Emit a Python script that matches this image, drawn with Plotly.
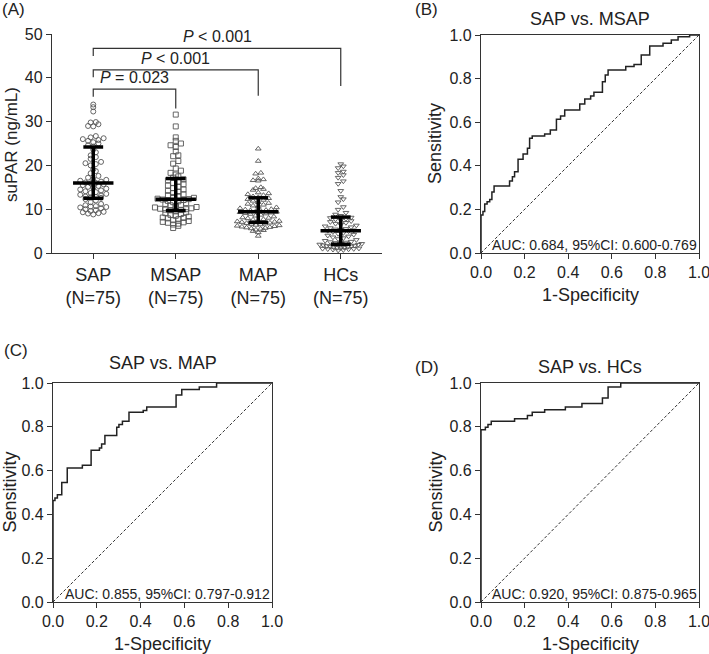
import numpy as np
import plotly.graph_objects as go

W, H = 709, 654
FONT = "Liberation Sans, Arial, sans-serif"
TXT = "#222222"
LN = "#333333"

# ---------------- Panel A data ----------------
groups = ["SAP", "MSAP", "MAP", "HCs"]
group_labels = ["SAP<br>(N=75)", "MSAP<br>(N=75)", "MAP<br>(N=75)", "HCs<br>(N=75)"]
symbols = ["circle-open", "square-open", "triangle-up-open", "triangle-down-open"]

sap = [33.9, 33.3, 32.3, 29.9, 29.8, 29.4, 29.0, 28.9, 26.7, 26.4, 26.2, 26.0, 25.8, 25.6, 25.3,
       25.0, 24.6, 24.3, 23.6, 23.0, 22.3, 21.9, 21.5, 20.8, 20.5, 20.3, 20.0, 19.1, 18.7, 18.2,
       17.6, 17.2, 16.9, 16.7, 16.5, 16.3, 16.1, 16.0, 15.9, 15.7, 15.5, 15.3, 15.1, 14.9, 14.7,
       14.5, 14.3, 14.1, 13.9, 13.7, 13.5, 13.3, 13.1, 12.9, 12.8, 12.7, 12.6, 12.3, 12.0, 11.6,
       11.2, 10.9, 10.7, 10.6, 10.5, 10.4, 10.2, 10.0, 9.8, 9.6, 9.4, 9.3, 9.1, 9.0, 8.8]
msap = [31.6, 28.9, 26.4, 25.6, 25.0, 24.6, 24.2, 23.2, 22.3, 22.1, 21.0, 20.4, 19.3, 18.8, 18.3,
        17.9, 17.5, 17.2, 16.8, 16.6, 16.3, 16.0, 15.7, 15.4, 15.1, 14.8, 14.5, 14.2, 14.0, 13.7,
        13.4, 13.2, 13.0, 12.8, 12.6, 12.4, 12.3, 12.2, 12.1, 11.9, 11.8, 11.6, 11.4, 11.2, 11.0,
        10.9, 10.7, 10.5, 10.4, 10.2, 10.1, 10.0, 9.9, 9.8, 9.75, 9.5, 9.3, 9.1, 8.9, 8.7,
        8.5, 8.3, 8.1, 8.0, 7.9, 7.7, 7.5, 7.3, 7.1, 7.0, 6.9, 6.7, 6.5, 6.2, 5.7]
map_ = [23.8, 21.0, 18.3, 18.1, 17.0, 16.8, 16.6, 16.5, 15.0, 14.8, 14.6, 14.4, 13.8, 13.6, 13.4,
        13.2, 12.9, 12.7, 12.5, 12.3, 12.1, 11.9, 11.6, 11.4, 11.2, 11.0, 10.8, 10.6, 10.4, 10.2,
        10.0, 9.9, 9.8, 9.7, 9.6, 9.5, 9.4, 9.3, 9.2, 9.1, 9.0, 8.9, 8.7, 8.5, 8.3,
        8.1, 8.0, 7.9, 7.7, 7.6, 7.4, 7.3, 7.2, 7.1, 7.05, 6.9, 6.8, 6.7, 6.6, 6.5,
        6.4, 6.3, 6.2, 6.1, 6.0, 5.9, 5.8, 5.7, 5.6, 5.5, 5.3, 5.2, 5.0, 4.7, 3.9]
hcs = [20.3, 19.8, 19.4, 18.6, 18.3, 17.8, 17.2, 16.4, 15.8, 14.2, 12.8, 12.3, 11.6, 10.5, 9.9,
       9.2, 8.8, 8.5, 8.1, 8.0, 7.8, 7.7, 7.5, 7.3, 7.1, 6.9, 6.7, 6.5, 6.3, 6.1,
       5.9, 5.7, 5.5, 5.4, 5.3, 5.2, 5.1, 5.0, 4.8, 4.6, 4.4, 4.2, 4.0, 3.8, 3.6,
       3.4, 3.2, 3.0, 2.8, 2.6, 2.5, 2.4, 2.3, 2.2, 2.1, 1.95, 1.9, 1.8, 1.7, 1.6,
       1.55, 1.5, 1.4, 1.3, 1.25, 1.2, 1.1, 1.05, 1.0, 0.95, 0.9, 0.85, 0.8, 0.7, 0.6]
group_values = [sap, msap, map_, hcs]

medians = [16.0, 12.3, 9.4, 5.1]
q1 = [12.5, 9.7, 7.0, 2.0]
q3 = [24.2, 17.0, 12.6, 8.2]

# comparisons: (target group index, p label)
comparisons = [(1, "<i>P</i> = 0.023"), (2, "<i>P</i> &lt; 0.001"), (3, "<i>P</i> &lt; 0.001")]

# ---------------- ROC data ----------------
rocB_fpr = [0, 0, 0.009, 0.017, 0.028, 0.04, 0.05, 0.06, 0.131, 0.144, 0.154, 0.17, 0.193, 0.213,
            0.223, 0.235, 0.292, 0.318, 0.346, 0.365, 0.384, 0.453, 0.476, 0.503, 0.518, 0.557,
            0.570, 0.583, 0.664, 0.702, 0.735, 0.774, 0.835, 0.873, 0.904, 0.957, 1.0]
rocB_tpr = [0, 0.174, 0.19, 0.225, 0.235, 0.245, 0.28, 0.307, 0.33, 0.35, 0.373, 0.43, 0.454, 0.48,
            0.526, 0.537, 0.546, 0.564, 0.613, 0.628, 0.656, 0.683, 0.706, 0.72, 0.737, 0.786,
            0.816, 0.839, 0.855, 0.865, 0.908, 0.95, 0.962, 0.977, 0.992, 1.0, 1.0]
rocC_fpr = [0, 0, 0.009, 0.02, 0.04, 0.065, 0.134, 0.174, 0.212, 0.222, 0.237, 0.291, 0.301, 0.317,
            0.347, 0.412, 0.428, 0.562, 0.588, 0.668, 0.747, 1.0]
rocC_tpr = [0, 0.463, 0.475, 0.49, 0.546, 0.612, 0.624, 0.693, 0.703, 0.721, 0.76, 0.798, 0.81, 0.825,
            0.866, 0.875, 0.89, 0.945, 0.97, 0.982, 1.0, 1.0]
rocD_fpr = [0, 0, 0.02, 0.032, 0.047, 0.154, 0.213, 0.235, 0.292, 0.387, 0.463, 0.557, 0.583, 0.641, 1.0]
rocD_tpr = [0, 0.787, 0.798, 0.81, 0.825, 0.837, 0.852, 0.866, 0.878, 0.89, 0.906, 0.932, 0.982, 1.0, 1.0]

roc_titles = ["SAP vs. MSAP", "SAP vs. MAP", "SAP vs. HCs"]
roc_auc_text = ["AUC: 0.684, 95%CI: 0.600-0.769",
                "AUC: 0.855, 95%CI: 0.797-0.912",
                "AUC: 0.920, 95%CI: 0.875-0.965"]

# ---------------- helpers ----------------
def px_x(px):
    return px / W

def px_y(py):
    return 1 - py / H

# Panel A geometry (pixels)
A_left, A_right, A_top, A_bottom = 52, 382, 34, 253
A_xrange = [-0.5, 3.5]
A_yrange = [0, 50]
px_per_cat = (A_right - A_left) / (A_xrange[1] - A_xrange[0])
px_per_val = (A_bottom - A_top) / (A_yrange[1] - A_yrange[0])


def row_scatter_offsets(vals, rowh=4.6, spacing=5.2, maxw=21.0):
    """GraphPad-like scatter: bin values into rows, spread each row symmetrically."""
    vals = np.asarray(vals, dtype=float)
    ypx = vals * px_per_val
    bins = np.floor(ypx / rowh).astype(int)
    offs = np.zeros(len(vals))
    for bi in np.unique(bins):
        idx = np.where(bins == bi)[0]
        idx = idx[np.argsort(vals[idx])]
        n = len(idx)
        if n == 1:
            offs[idx[0]] = 0.0
            continue
        sp = min(spacing, 2 * maxw / (n - 1))
        pos = (np.arange(n) - (n - 1) / 2.0) * sp
        pos = pos[np.argsort(np.abs(pos) + 1e-3 * pos, kind="stable")]
        for j, i in enumerate(idx):
            offs[i] = pos[j]
    return offs / px_per_cat


fig = go.Figure()

# ---------------- Panel A ----------------
for gi, vals in enumerate(group_values):
    offs = row_scatter_offsets(vals)
    fig.add_trace(go.Scatter(
        x=gi + offs, y=vals, mode="markers", xaxis="x", yaxis="y",
        marker=dict(symbol=symbols[gi], size=5, color="#555555", line=dict(width=0.9, color="#555555")),
        cliponaxis=False, hoverinfo="skip"))

# median & IQR
ex, ey = [], []
for gi in range(len(groups)):
    ex += [gi - 0.245, gi + 0.245, None]
    ey += [medians[gi], medians[gi], None]
    ex += [gi, gi, None]
    ey += [q1[gi], q3[gi], None]
    ex += [gi - 0.12, gi + 0.12, None]
    ey += [q1[gi], q1[gi], None]
    ex += [gi - 0.12, gi + 0.12, None]
    ey += [q3[gi], q3[gi], None]
fig.add_trace(go.Scatter(x=ex, y=ey, mode="lines", xaxis="x", yaxis="y",
                         line=dict(color="black", width=3.5), cliponaxis=False, hoverinfo="skip"))

# significance brackets
bracket_y = [37.4, 41.8, 46.7]
right_leg_bottom = [33.0, 35.9, 38.1]
bx, by = [], []
annotations = []
for k, (tg, lab) in enumerate(comparisons):
    yb = bracket_y[k]
    bx += [0, 0, tg, tg, None]
    by += [yb - 1.7, yb, yb, right_leg_bottom[k], None]
    annotations.append(dict(x=tg / 2.0, y=yb + 0.3, xref="x", yref="y", text=lab, showarrow=False,
                            xanchor="center", yanchor="bottom",
                            font=dict(family=FONT, size=16, color=TXT)))
fig.add_trace(go.Scatter(x=bx, y=by, mode="lines", xaxis="x", yaxis="y",
                         line=dict(color=LN, width=1.2), cliponaxis=False, hoverinfo="skip"))

axis_common = dict(showgrid=False, zeroline=False, showline=True, linecolor=LN, linewidth=1.3,
                   ticks="outside", ticklen=5, tickwidth=1.3, tickcolor=LN, automargin=False,
                   ticklabeloverflow="allow")

layout = dict(
    width=W, height=H, margin=dict(l=0, r=0, t=0, b=0, pad=0, autoexpand=False),
    paper_bgcolor="white", plot_bgcolor="white", showlegend=False,
    font=dict(family=FONT, color=TXT),
    xaxis=dict(domain=[px_x(A_left), px_x(A_right)], range=A_xrange, anchor="y",
               tickvals=list(range(len(groups))), ticktext=group_labels,
               tickfont=dict(family=FONT, size=18, color=TXT), **axis_common),
    yaxis=dict(domain=[px_y(A_bottom), px_y(A_top)], range=A_yrange, anchor="x",
               tickvals=[0, 10, 20, 30, 40, 50],
               tickfont=dict(family=FONT, size=16, color=TXT), **axis_common),
)

annotations.append(dict(x=px_x(12), y=px_y(145), xref="paper", yref="paper", text="suPAR (ng/mL)",
                        textangle=-90, showarrow=False, xanchor="center", yanchor="middle",
                        font=dict(family=FONT, size=17, color=TXT)))
annotations.append(dict(x=0, y=px_y(10), xref="paper", yref="paper", text="(A)", showarrow=False,
                        xanchor="left", yanchor="middle", font=dict(family=FONT, size=17, color=TXT)))

# ---------------- ROC panels ----------------
roc_data = [(rocB_fpr, rocB_tpr), (rocC_fpr, rocC_tpr), (rocD_fpr, rocD_tpr)]
# pixel boxes: left, right, top, bottom
roc_boxes = [(481, 699, 35, 253), (53, 272, 383, 602), (481, 699, 383, 602)]
panel_letters = ["(B)", "(C)", "(D)"]
letter_pos = [(413, 10), (2, 350), (413, 367)]
title_y = [19, 363, 367]
sens_x = [435, 9, 435]

for k in range(3):
    ax_i = k + 2
    xa, ya = f"x{ax_i}", f"y{ax_i}"
    l, r, t, b = roc_boxes[k]
    fpr, tpr = roc_data[k]
    # reference diagonal
    fig.add_trace(go.Scatter(x=[0, 1], y=[0, 1], mode="lines", xaxis=xa, yaxis=ya,
                             line=dict(color=LN, width=1, dash="3px,2px"), hoverinfo="skip"))
    fig.add_trace(go.Scatter(x=fpr, y=tpr, mode="lines", xaxis=xa, yaxis=ya,
                             line=dict(color="#222222", width=1.5, shape="hv"),
                             cliponaxis=False, hoverinfo="skip"))
    roc_ax = dict(range=[0, 1], tickvals=[0, 0.2, 0.4, 0.6, 0.8, 1.0], tickformat=".1f",
                  mirror=True, tickfont=dict(family=FONT, size=16, color=TXT), **axis_common)
    layout[f"xaxis{ax_i}"] = dict(domain=[px_x(l), px_x(r)], anchor=ya, **roc_ax)
    layout[f"yaxis{ax_i}"] = dict(domain=[px_y(b), px_y(t)], anchor=xa, **roc_ax)
    cx = (l + r) / 2
    cy = (t + b) / 2
    annotations.append(dict(x=px_x(cx), y=px_y(title_y[k]), xref="paper", yref="paper",
                            text=roc_titles[k], showarrow=False, xanchor="center", yanchor="middle",
                            font=dict(family=FONT, size=18, color=TXT)))
    annotations.append(dict(x=px_x(cx), y=px_y(b + 42), xref="paper", yref="paper",
                            text="1-Specificity", showarrow=False, xanchor="center", yanchor="middle",
                            font=dict(family=FONT, size=18, color=TXT)))
    annotations.append(dict(x=px_x(sens_x[k]), y=px_y(cy), xref="paper", yref="paper",
                            text="Sensitivity", textangle=-90, showarrow=False,
                            xanchor="center", yanchor="middle",
                            font=dict(family=FONT, size=18, color=TXT)))
    annotations.append(dict(x=1.0, y=0.037, xref=xa, yref=ya, text=roc_auc_text[k],
                            showarrow=False, xanchor="right", yanchor="middle",
                            font=dict(family=FONT, size=14, color=TXT)))
    lx, ly = letter_pos[k]
    annotations.append(dict(x=px_x(lx), y=px_y(ly), xref="paper", yref="paper",
                            text=panel_letters[k], showarrow=False, xanchor="left", yanchor="middle",
                            font=dict(family=FONT, size=17, color=TXT)))

layout["annotations"] = annotations
fig.update_layout(**layout)
fig.write_html("out.html", config={"displayModeBar": False},
               post_script="document.body.style.margin='0';document.body.style.overflow='hidden';")
